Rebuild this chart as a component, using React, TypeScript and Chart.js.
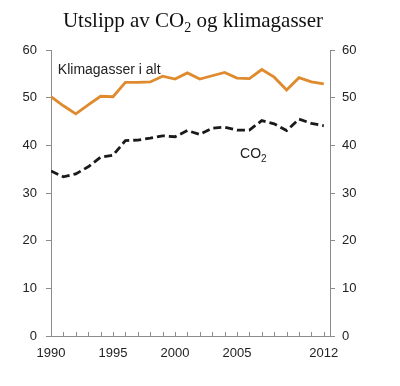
import React, { useEffect, useRef } from "react";
import { Chart, registerables } from "chart.js";

Chart.register(...registerables);

const years = [1990, 1991, 1992, 1993, 1994, 1995, 1996, 1997, 1998, 1999, 2000, 2001, 2002, 2003, 2004, 2005, 2006, 2007, 2008, 2009, 2010, 2011, 2012];
const klimagasser = [50.2, 48.3, 46.6, 48.5, 50.3, 50.2, 53.2, 53.2, 53.3, 54.5, 53.9, 55.2, 53.9, 54.6, 55.3, 54.1, 54.0, 55.9, 54.3, 51.6, 54.2, 53.3, 52.9];
const co2 = [34.6, 33.4, 34.0, 35.5, 37.5, 37.9, 41.0, 41.1, 41.5, 42.0, 41.8, 43.1, 42.3, 43.6, 43.8, 43.2, 43.2, 45.2, 44.5, 43.1, 45.5, 44.6, 44.1];
const labeledYears = [1990, 1995, 2000, 2005, 2012];
const yTicks = [0, 10, 20, 30, 40, 50, 60];

const AXIS = "#8c8c8c";
const TEXT = "#222222";
const ORANGE = "#DF8A2C";
const SANS = "Arial, 'Liberation Sans', sans-serif";
const SERIF = "'Times New Roman', 'Liberation Serif', serif";

function drawSubText(ctx: CanvasRenderingContext2D, parts: { t: string; sub?: boolean }[], x: number, y: number, size: number, family: string, align: "left" | "center", subScale = 0.65) {
  ctx.save();
  ctx.textBaseline = "alphabetic";
  ctx.textAlign = "left";
  const fontFor = (sub?: boolean) => `${sub ? Math.round(size * subScale) : size}px ${family}`;
  let total = 0;
  for (const p of parts) {
    ctx.font = fontFor(p.sub);
    total += ctx.measureText(p.t).width;
  }
  let cx = align === "center" ? x - total / 2 : x;
  for (const p of parts) {
    ctx.font = fontFor(p.sub);
    ctx.fillText(p.t, cx, p.sub ? y + size * 0.25 : y);
    cx += ctx.measureText(p.t).width;
  }
  ctx.restore();
}

const decorPlugin = {
  id: "decor",
  afterDraw(chart: any) {
    const ctx = chart.ctx as CanvasRenderingContext2D;
    const xs = chart.scales.x;
    const ys = chart.scales.y;
    const area = chart.chartArea;
    // inward x ticks
    ctx.save();
    ctx.strokeStyle = AXIS;
    ctx.lineWidth = 1;
    for (const yr of years) {
      const px = Math.round(xs.getPixelForValue(yr)) + 0.5;
      ctx.beginPath();
      ctx.moveTo(px, area.bottom);
      ctx.lineTo(px, area.bottom - 4);
      ctx.stroke();
    }
    ctx.restore();
    // title
    ctx.save();
    ctx.fillStyle = "#111111";
    drawSubText(ctx, [{ t: "Utslipp av CO" }, { t: "2", sub: true }, { t: " og klimagasser" }], 193, 27, 21, SERIF, "center");
    // annotations
    ctx.fillStyle = TEXT;
    drawSubText(ctx, [{ t: "Klimagasser i alt" }], xs.getPixelForValue(1990.55), ys.getPixelForValue(55.0), 14, SANS, "left");
    drawSubText(ctx, [{ t: "CO" }, { t: "2", sub: true }], xs.getPixelForValue(2005.25), ys.getPixelForValue(37.3), 14, SANS, "left", 0.7);
    ctx.restore();
  },
};

export default function App() {
  const ref = useRef<HTMLCanvasElement>(null);
  useEffect(() => {
    if (!ref.current) return;
    const yAxis = (pos: "left" | "right", w: number, pad: number) => ({
      type: "linear" as const,
      position: pos,
      min: 0,
      max: 60,
      afterBuildTicks: (s: any) => {
        s.ticks = yTicks.map((v) => ({ value: v }));
      },
      ticks: { color: TEXT, font: { size: 13, family: SANS }, padding: pad },
      grid: { drawOnChartArea: false, color: AXIS, tickLength: 5, tickColor: AXIS },
      border: { display: true, color: AXIS, width: 1 },
      afterFit: (s: any) => {
        s.width = w;
      },
    });
    const chart = new Chart(ref.current, {
      type: "line",
      data: {
        datasets: [
          {
            label: "Klimagasser i alt",
            data: years.map((y, i) => ({ x: y, y: klimagasser[i] })),
            borderColor: ORANGE,
            borderWidth: 2.8,
            pointRadius: 0,
            tension: 0,
            yAxisID: "y",
          },
          {
            label: "CO2",
            data: years.map((y, i) => ({ x: y, y: co2[i] })),
            borderColor: "#1a1a1a",
            borderWidth: 2.8,
            borderDash: [8, 4],
            pointRadius: 0,
            tension: 0,
            yAxisID: "y",
          },
        ],
      },
      options: {
        animation: false,
        responsive: false,
        layout: { padding: { top: 50, left: 0, right: 0, bottom: 0 } },
        plugins: { legend: { display: false }, tooltip: { enabled: false }, title: { display: false } },
        scales: {
          x: {
            type: "linear",
            min: 1990,
            max: 2012.5,
            afterBuildTicks: (s: any) => {
              s.ticks = years.map((v) => ({ value: v }));
            },
            ticks: {
              autoSkip: false,
              maxRotation: 0,
              color: TEXT,
              font: { size: 13, family: SANS },
              padding: 10,
              callback: (v: any) => (labeledYears.includes(Number(v)) ? String(v) : ""),
            },
            grid: { display: false, drawTicks: false },
            border: { display: true, color: AXIS, width: 1 },
            afterFit: (s: any) => {
              s.height = 50;
            },
          },
          y: yAxis("left", 51, 9),
          y2: yAxis("right", 70, 7),
        },
      },
      plugins: [decorPlugin],
    });
    return () => chart.destroy();
  }, []);
  return (
    <div style={{ position: "fixed", left: 0, top: 0, width: 400, height: 386, background: "#fff" }}>
      <canvas ref={ref} width={400} height={386} />
    </div>
  );
}
